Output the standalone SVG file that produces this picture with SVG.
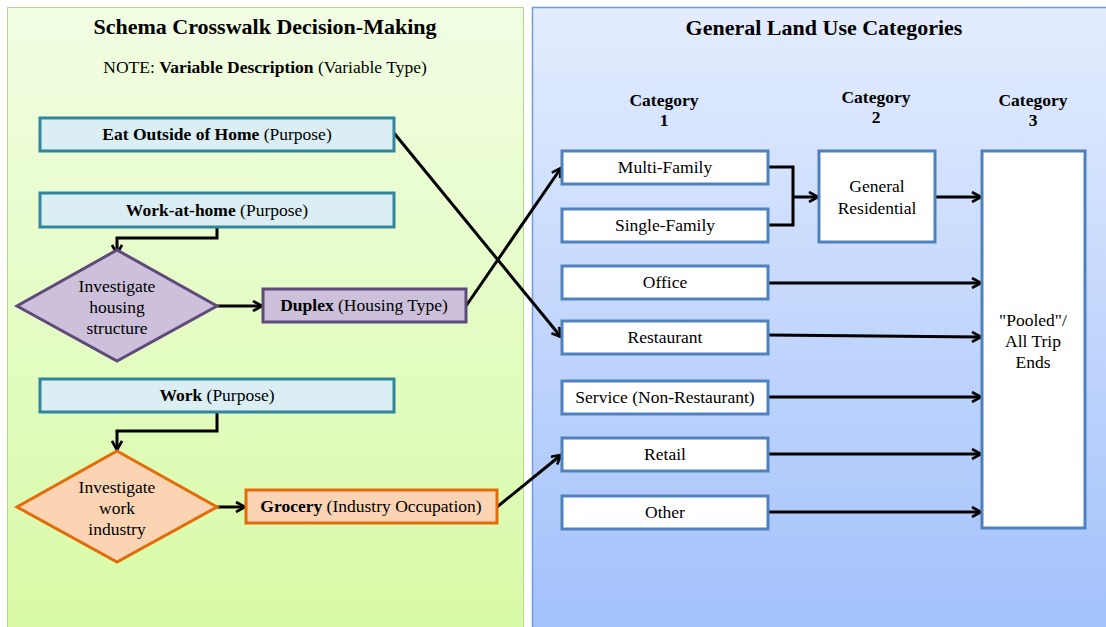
<svg xmlns="http://www.w3.org/2000/svg" width="1106" height="627" viewBox="0 0 1106 627">
  <defs>
    <linearGradient id="gGreen" x1="0" y1="0" x2="0" y2="1">
      <stop offset="0" stop-color="#f1fde3"/>
      <stop offset="1" stop-color="#d8fba6"/>
    </linearGradient>
    <linearGradient id="gBlue" x1="0" y1="0" x2="0" y2="1">
      <stop offset="0" stop-color="#e4edfe"/>
      <stop offset="1" stop-color="#a2c1fb"/>
    </linearGradient>
    <marker id="arr" viewBox="0 0 12 12" refX="11" refY="6" markerWidth="12" markerHeight="12" markerUnits="userSpaceOnUse" orient="auto">
      <polyline points="2,1 11,6 2,11" fill="none" stroke="#000" stroke-width="2.6" stroke-linejoin="miter"/>
    </marker>
  </defs>
  <style>
    text { font-family: "Liberation Serif", "Times New Roman", serif; fill: #000; }
    .title { font-size: 22px; font-weight: bold; text-anchor: middle; }
    .note { font-size: 17.5px; text-anchor: middle; }
    .lbl { font-size: 17.5px; text-anchor: middle; }
    .cat { font-size: 17.5px; font-weight: bold; text-anchor: middle; }
    .b { font-weight: bold; }
    .purpose { fill: #daeef3; stroke: #31859c; stroke-width: 3; }
    .housing { fill: #ccc0da; stroke: #604a7b; stroke-width: 3; }
    .industry { fill: #fbd4b4; stroke: #e36c09; stroke-width: 3; }
    .landuse { fill: #ffffff; stroke: #4f81bd; stroke-width: 3; }
    .conn { fill: none; stroke: #000; stroke-width: 3; }
  </style>

  <!-- panels -->
  <g id="panel-schema">
    <rect x="7.5" y="7.5" width="516" height="625" fill="url(#gGreen)" stroke="#b3d88b" stroke-width="1"/>
    <text class="title" x="265" y="34">Schema Crosswalk Decision-Making</text>
    <text class="note" x="265" y="73">NOTE: <tspan class="b">Variable Description</tspan> (Variable Type)</text>
  </g>
  <g id="panel-landuse">
    <rect x="532.5" y="7.5" width="580" height="625" fill="url(#gBlue)" stroke="#6f9bd8" stroke-width="1.5"/>
    <text class="title" x="824" y="35">General Land Use Categories</text>
    <text class="cat" x="664" y="106">Category</text>
    <text class="cat" x="664" y="126">1</text>
    <text class="cat" x="876" y="103">Category</text>
    <text class="cat" x="876" y="123">2</text>
    <text class="cat" x="1033" y="106">Category</text>
    <text class="cat" x="1033" y="126">3</text>
  </g>

  <!-- connectors -->
  <g id="connectors">
    <path class="conn" d="M394,133 L561,337" marker-end="url(#arr)"/>
    <path class="conn" d="M466,306 L561,168" marker-end="url(#arr)"/>
    <path class="conn" d="M497,507 L561,455" marker-end="url(#arr)"/>
    <path class="conn" d="M217,227 V238 H117 V254" marker-end="url(#arr)"/>
    <path class="conn" d="M217,412 V431 H117 V450" marker-end="url(#arr)"/>
    <path class="conn" d="M217,306 H262" marker-end="url(#arr)"/>
    <path class="conn" d="M217,507 H245" marker-end="url(#arr)"/>
    <path class="conn" d="M768,167 H793 V225 H768"/>
    <path class="conn" d="M793,197 H818" marker-end="url(#arr)"/>
    <path class="conn" d="M935,197 H981" marker-end="url(#arr)"/>
    <path class="conn" d="M768,283 H981" marker-end="url(#arr)"/>
    <path class="conn" d="M768,335 L981,337" marker-end="url(#arr)"/>
    <path class="conn" d="M768,397 H981" marker-end="url(#arr)"/>
    <path class="conn" d="M768,454 H981" marker-end="url(#arr)"/>
    <path class="conn" d="M768,512 H981" marker-end="url(#arr)"/>
  </g>

  <!-- schema nodes -->
  <g id="eat-outside">
    <rect class="purpose" x="40" y="118" width="354" height="33"/>
    <text class="lbl" x="217" y="140">
      <tspan class="b">Eat Outside of Home</tspan> (Purpose)</text>
  </g>
  <g id="work-at-home">
    <rect class="purpose" x="40" y="193" width="354" height="34"/>
    <text class="lbl" x="217" y="216"><tspan class="b">Work-at-home</tspan> (Purpose)</text>
  </g>
  <g id="investigate-housing">
    <polygon class="housing" points="117,250 217,306 117,361 17,306"/>
    <text class="lbl" x="117" y="292">Investigate</text>
    <text class="lbl" x="117" y="313">housing</text>
    <text class="lbl" x="117" y="334">structure</text>
  </g>
  <g id="duplex">
    <rect class="housing" x="263" y="289" width="203" height="33"/>
    <text class="lbl" x="364" y="311"><tspan class="b">Duplex</tspan> (Housing Type)</text>
  </g>
  <g id="work">
    <rect class="purpose" x="40" y="379" width="354" height="33"/>
    <text class="lbl" x="217" y="401"><tspan class="b">Work</tspan> (Purpose)</text>
  </g>
  <g id="investigate-industry">
    <polygon class="industry" points="117,451 217,507 117,562 17,507"/>
    <text class="lbl" x="117" y="493">Investigate</text>
    <text class="lbl" x="117" y="514">work</text>
    <text class="lbl" x="117" y="535">industry</text>
  </g>
  <g id="grocery">
    <rect class="industry" x="246" y="490" width="251" height="33"/>
    <text class="lbl" x="371" y="512"><tspan class="b">Grocery</tspan> (Industry Occupation)</text>
  </g>

  <!-- land use nodes -->
  <g id="multi-family">
    <rect class="landuse" x="562" y="151" width="206" height="33"/>
    <text class="lbl" x="665" y="173">Multi-Family</text>
  </g>
  <g id="single-family">
    <rect class="landuse" x="562" y="209" width="206" height="33"/>
    <text class="lbl" x="665" y="231">Single-Family</text>
  </g>
  <g id="office">
    <rect class="landuse" x="562" y="266" width="206" height="33"/>
    <text class="lbl" x="665" y="288">Office</text>
  </g>
  <g id="restaurant">
    <rect class="landuse" x="562" y="321" width="206" height="33"/>
    <text class="lbl" x="665" y="343">Restaurant</text>
  </g>
  <g id="service">
    <rect class="landuse" x="562" y="381" width="206" height="33"/>
    <text class="lbl" x="665" y="403">Service (Non-Restaurant)</text>
  </g>
  <g id="retail">
    <rect class="landuse" x="562" y="438" width="206" height="33"/>
    <text class="lbl" x="665" y="460">Retail</text>
  </g>
  <g id="other">
    <rect class="landuse" x="562" y="496" width="206" height="33"/>
    <text class="lbl" x="665" y="518">Other</text>
  </g>
  <g id="general-residential">
    <rect class="landuse" x="819" y="151" width="116" height="91"/>
    <text class="lbl" x="877" y="192">General</text>
    <text class="lbl" x="877" y="214">Residential</text>
  </g>
  <g id="pooled">
    <rect class="landuse" x="982" y="151" width="103" height="377"/>
    <text class="lbl" x="1033" y="326">"Pooled"/</text>
    <text class="lbl" x="1033" y="347">All Trip</text>
    <text class="lbl" x="1033" y="368">Ends</text>
  </g>
</svg>
